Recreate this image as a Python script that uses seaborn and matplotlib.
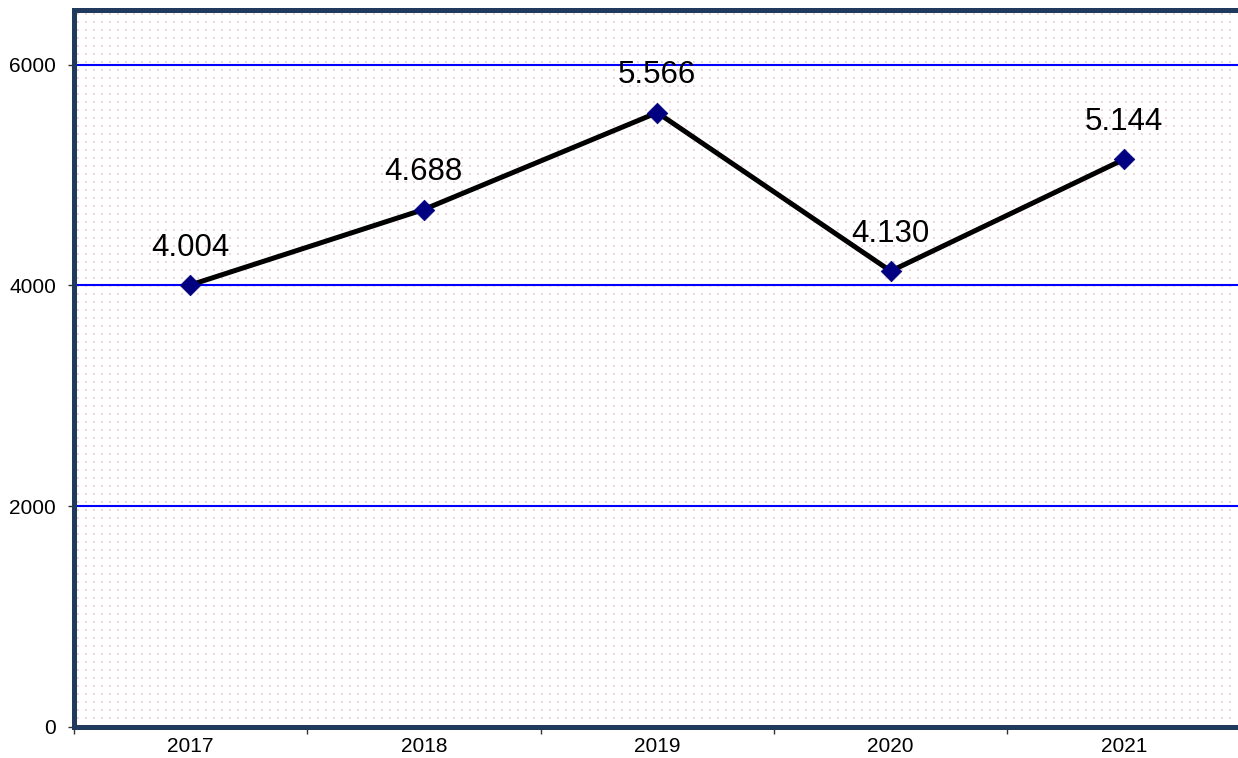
import numpy as np
import pandas as pd
import matplotlib
matplotlib.use("Agg")
import matplotlib.pyplot as plt
from matplotlib.ticker import FixedLocator
import seaborn as sns

# Data
years = ["2017", "2018", "2019", "2020", "2021"]
values = [4004, 4688, 5566, 4130, 5144]
value_labels = ["4.004", "4.688", "5.566", "4.130", "5.144"]
y_ticks = [0, 2000, 4000, 6000]

df = pd.DataFrame({"year": years, "value": values})

sns.set_style("white")
plt.rcParams["font.family"] = ["Liberation Sans", "DejaVu Sans"]

W, H, DPI = 1238, 758, 100
fig = plt.figure(figsize=(W / DPI, H / DPI), dpi=DPI, facecolor="white")
left, right_px, top_px, bottom_px = 73.5, 1241.0, 9.5, 727.0
ax = fig.add_axes([left / W, (H - bottom_px) / H,
                   (right_px - left) / W, (bottom_px - top_px) / H])
ax.set_xlim(-0.5, 4.5)
ax.set_ylim(0, 6500)
ax.set_facecolor("none")
ax.set_zorder(2)

# dotted background texture, pixel-aligned behind the plot area
pw, ph = int(W - left), int(bottom_px - top_px)
tex = np.ones((ph, pw, 4))
dot = np.array([0.94, 0.84, 0.85, 1.0])
for r in range(3, ph - 2, 8):
    for c in range(4, pw, 8):
        tex[r:r + 2, c:c + 2] = dot
fig.figimage(tex, xo=int(left), yo=int(H - bottom_px), origin="upper", zorder=-1)

# horizontal gridlines
for yv in y_ticks[1:]:
    ax.axhline(yv, color="#0000FF", linewidth=1.5, zorder=1)

# series
sns.lineplot(data=df, x="year", y="value", sort=False, color="black",
             linewidth=3.6, ax=ax, zorder=3)
sns.scatterplot(data=df, x="year", y="value", marker="D", color="#000080",
                s=110, edgecolor="#000080", linewidth=0.5, ax=ax, zorder=4)

for i, (v, lab) in enumerate(zip(values, value_labels)):
    ax.annotate(lab, (i, v), xytext=(0, 27), textcoords="offset points",
                ha="center", va="center", fontsize=22.5, color="black",
                zorder=5)

# axes styling
ax.set_xlabel("")
ax.set_ylabel("")
ax.set_xticks(range(len(years)))
ax.set_xticklabels(years, fontsize=15, color="black")
ax.xaxis.set_minor_locator(FixedLocator(np.arange(-0.5, 5.0, 1.0)))
ax.tick_params(axis="x", which="major", length=0, pad=7)
ax.tick_params(axis="x", which="minor", length=5, width=1, color="#333333",
               direction="out", bottom=True)
ax.set_yticks(y_ticks)
ax.set_yticklabels([str(t) for t in y_ticks], fontsize=15, color="black")
ax.tick_params(axis="y", which="major", length=4.5, width=1, color="#333333",
               direction="out", left=True, pad=8)

for side in ["left", "top", "bottom"]:
    ax.spines[side].set_visible(True)
    ax.spines[side].set_color("#1F3A5C")
    ax.spines[side].set_linewidth(3.6)
    ax.spines[side].set_zorder(6)
ax.spines["right"].set_visible(False)

fig.savefig("out.png", dpi=DPI, facecolor="white")
